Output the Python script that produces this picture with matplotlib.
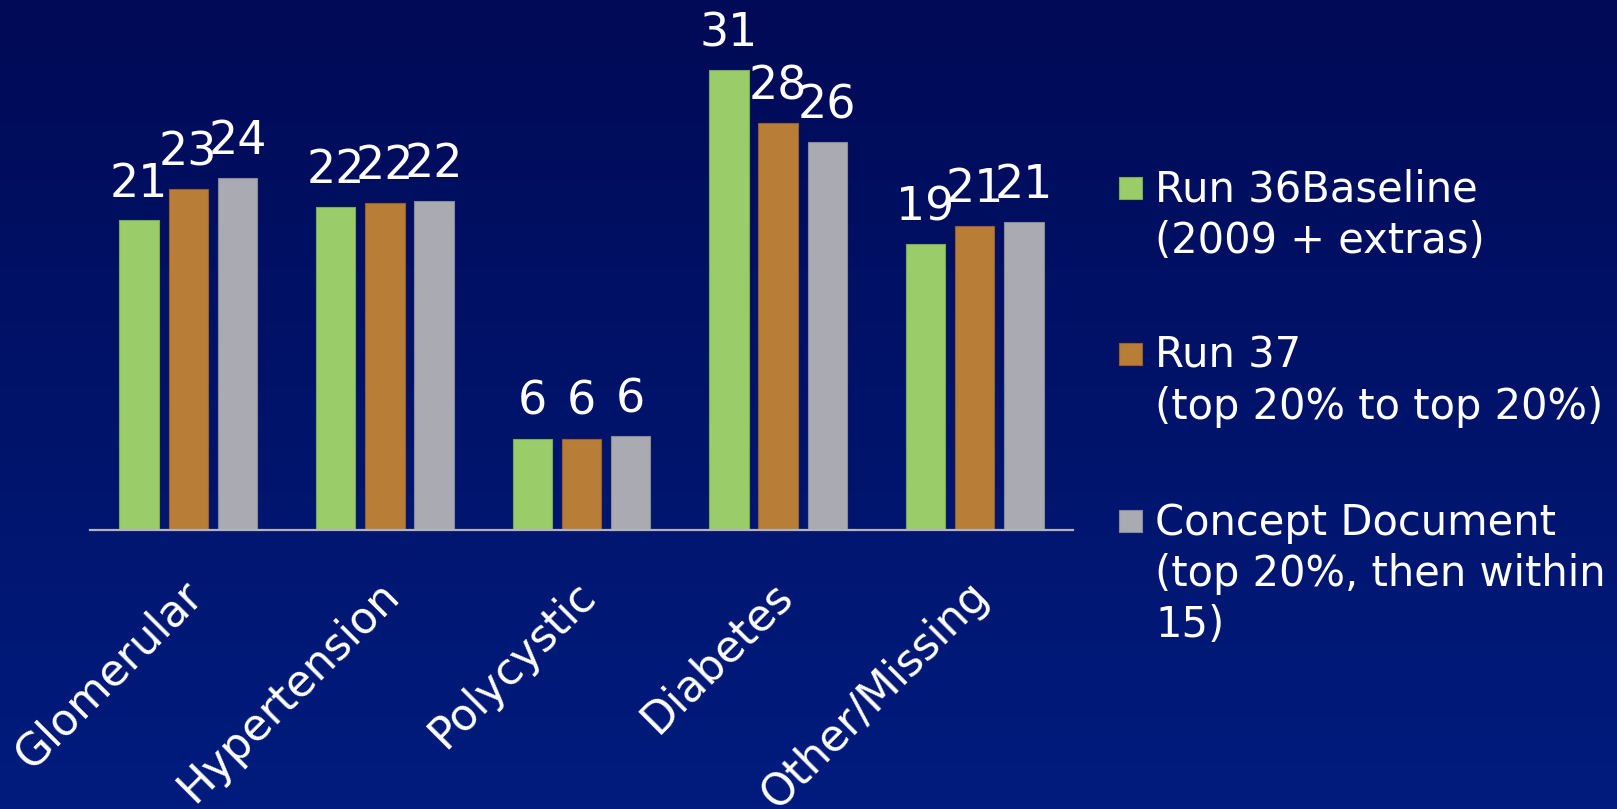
import numpy as np
import matplotlib
matplotlib.use("Agg")
import matplotlib.pyplot as plt
import matplotlib.transforms as mtransforms
from matplotlib.patches import Rectangle

plt.rcParams['font.family'] = ['DejaVu Sans']

categories = ['Glomerular', 'Hypertension', 'Polycystic', 'Diabetes', 'Other/Missing']
run36 = [21.0, 21.9, 6.2, 31.2, 19.4]
run37 = [23.1, 22.2, 6.2, 27.6, 20.6]
concept = [23.9, 22.3, 6.35, 26.3, 20.9]
labels36 = ['21', '22', '6', '31', '19']
labels37 = ['23', '22', '6', '28', '21']
labels_cd = ['24', '22', '6', '26', '21']
series_names = ['Run 36Baseline\n(2009 + extras)',
                'Run 37\n(top 20% to top 20%)',
                'Concept Document\n(top 20%, then within\n15)']
colors = ['#9BCC6A', '#B87D36', '#AAAAB3']
edges = ['#7FA855', '#94622A', '#8A8A95']

W, H = 1617, 809
fig = plt.figure(figsize=(W / 100, H / 100), dpi=100)

# background gradient
bg = fig.add_axes([0, 0, 1, 1])
top = np.array([0, 10, 86]) / 255
bot = np.array([0, 28, 126]) / 255
t = np.linspace(0, 1, 256)[:, None, None]
grad = top * (1 - t) + bot * t
grad = np.repeat(grad, 2, axis=1)
bg.imshow(grad, aspect='auto', extent=[0, 1, 0, 1])
bg.axis('off')

ax = fig.add_axes([90 / W, 1 - 530 / H, (1073 - 90) / W, 516 / H])
ax.patch.set_alpha(0)

x = np.arange(len(categories))
off = 0.25
wd = 0.2
all_series = [run36, run37, concept]
all_labels = [labels36, labels37, labels_cd]
for k, (vals, labs) in enumerate(zip(all_series, all_labels)):
    xs = x + (k - 1) * off
    ax.bar(xs, vals, width=wd, color=colors[k], edgecolor=edges[k], linewidth=0.8, zorder=2)
    for xi, v, lab in zip(xs, vals, labs):
        ax.annotate(lab, (xi, v), xytext=(0, 10), textcoords='offset points',
                    ha='center', va='bottom', color='white', fontsize=33)

ax.set_xlim(-0.5, len(categories) - 0.5)
ax.set_ylim(0, 35)
for s in ['top', 'right', 'left']:
    ax.spines[s].set_visible(False)
ax.spines['bottom'].set_color('#B4B4B8')
ax.spines['bottom'].set_linewidth(1.6)
ax.set_yticks([])
ax.set_xticks(x)
ax.set_xticklabels(categories, rotation=45, ha='right', rotation_mode='anchor',
                   fontsize=31.5, color='white')
ax.tick_params(axis='x', length=0, pad=31)
shift = mtransforms.ScaledTranslation(-8 / 100, 0, fig.dpi_scale_trans)
for lab in ax.get_xticklabels():
    lab.set_transform(lab.get_transform() + shift)

# legend drawn by hand: square beside the first line of each label
base_y = [202, 368, 535]
line_gap = 51
for k, name in enumerate(series_names):
    by = base_y[k]
    fig.patches.append(Rectangle((1119 / W, 1 - (by - 3) / H), 23 / W, 22 / H,
                                 transform=fig.transFigure, facecolor=colors[k],
                                 edgecolor=edges[k], linewidth=0.8))
    for j, line in enumerate(name.split('\n')):
        fig.text(1155 / W, 1 - (by + j * line_gap) / H, line, color='white',
                 fontsize=30, ha='left', va='baseline')

fig.savefig('out.png', dpi=100)
